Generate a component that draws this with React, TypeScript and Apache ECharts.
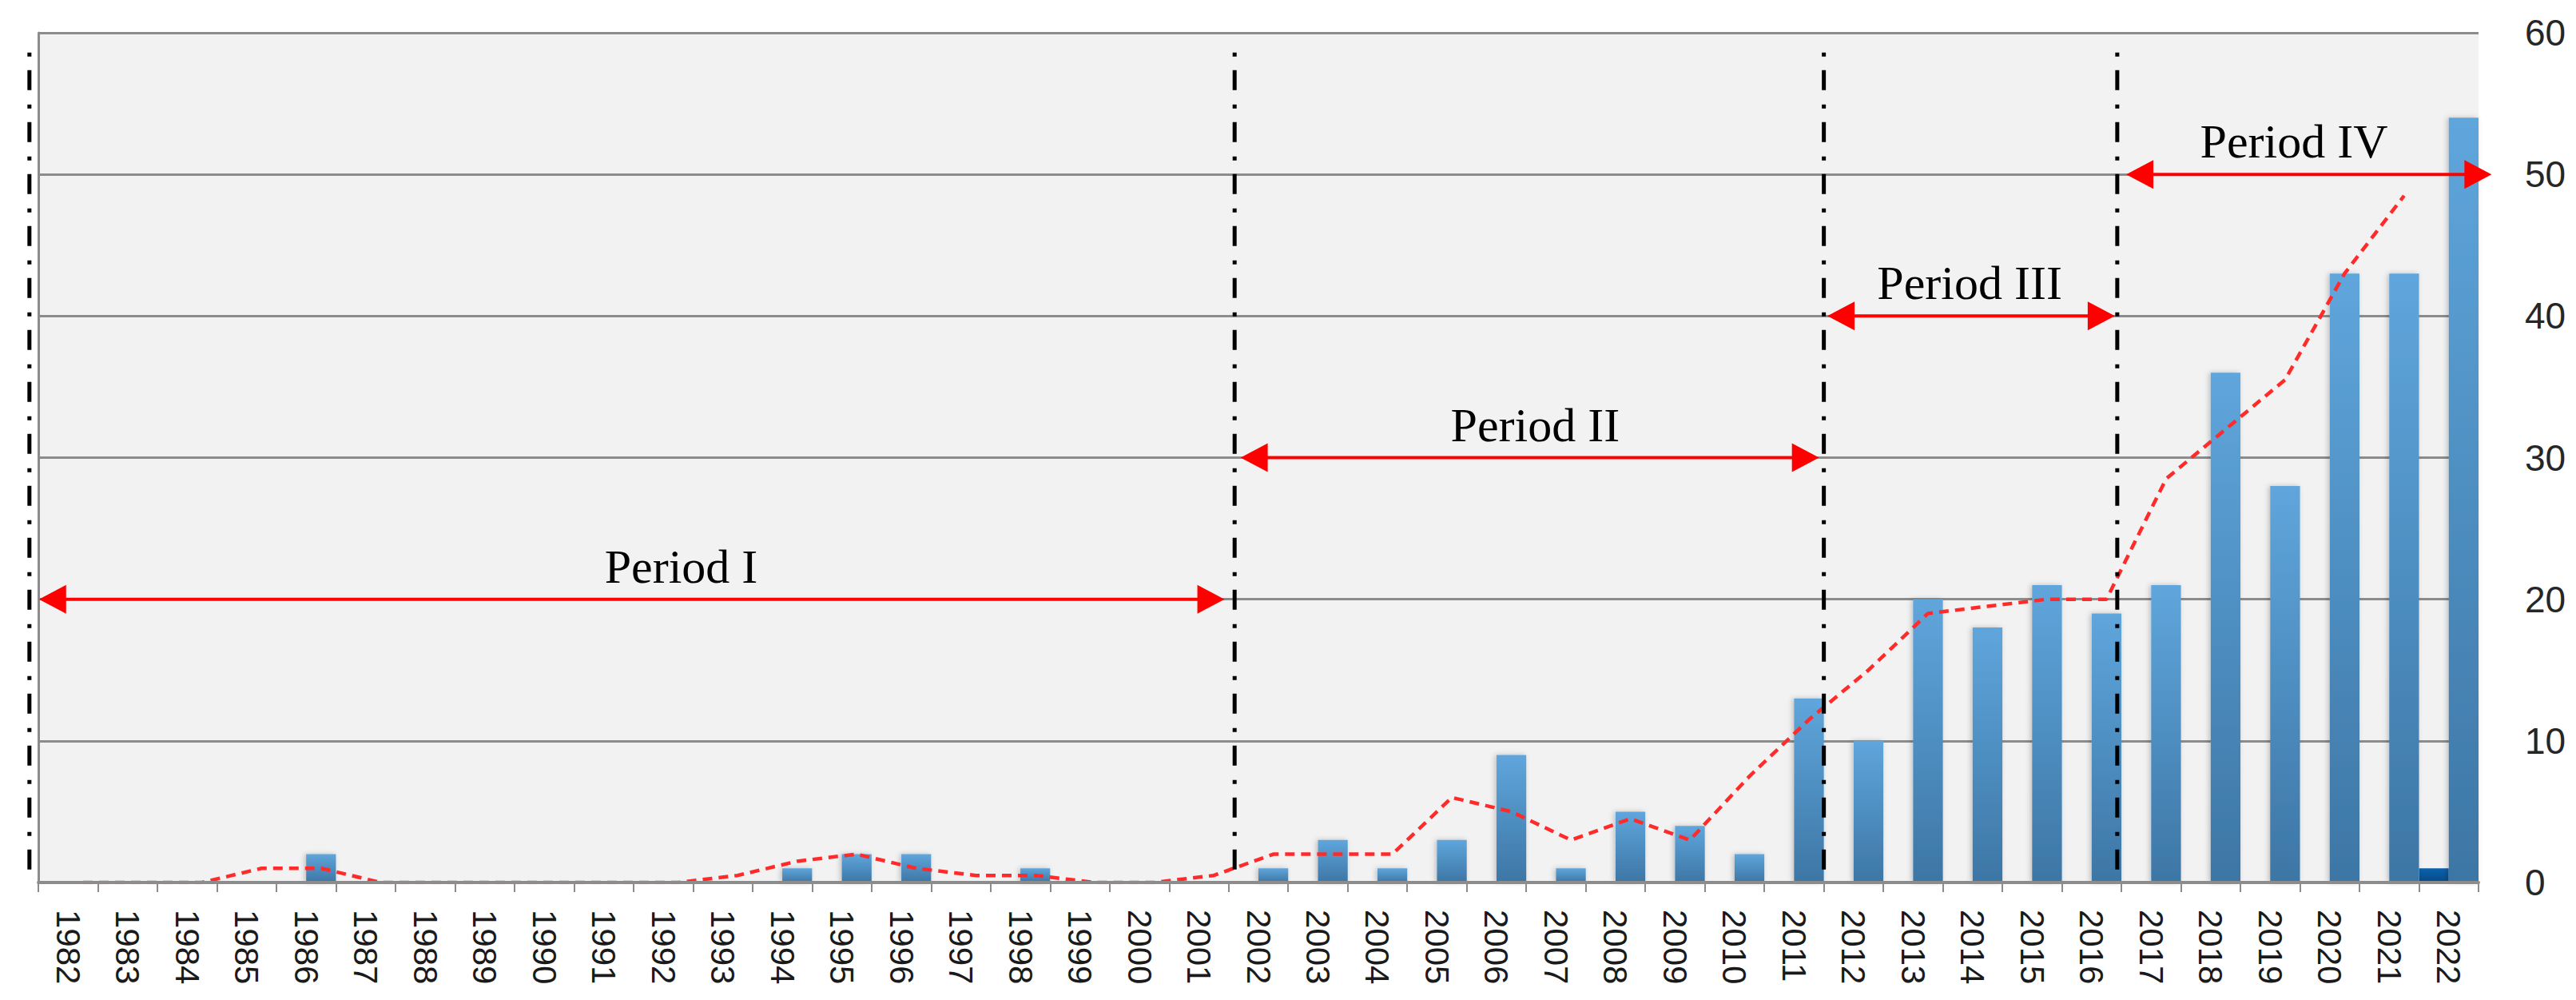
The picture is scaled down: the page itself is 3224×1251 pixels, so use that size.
import React, { useEffect, useRef } from 'react';
import * as echarts from 'echarts';

// Categories (years)
const years = [
  '1982', '1983', '1984', '1985', '1986', '1987', '1988', '1989', '1990', '1991',
  '1992', '1993', '1994', '1995', '1996', '1997', '1998', '1999', '2000', '2001',
  '2002', '2003', '2004', '2005', '2006', '2007', '2008', '2009', '2010', '2011',
  '2012', '2013', '2014', '2015', '2016', '2017', '2018', '2019', '2020', '2021', '2022',
];

// Dark blue series (left bar of each pair)
const secondarySeries = [
  0, 0, 0, 0, 0, 0, 0, 0, 0, 0,
  0, 0, 0, 0, 0, 0, 0, 0, 0, 0,
  0, 0, 0, 0, 0, 0, 0, 0, 0, 0,
  0, 0, 0, 0, 0, 0, 0, 0, 0, 0, 1,
];

// Light blue series (right bar of each pair)
const mainSeries = [
  0, 0, 0, 0, 2, 0, 0, 0, 0, 0,
  0, 0, 1, 2, 2, 0, 1, 0, 0, 0,
  1, 3, 1, 3, 9, 1, 5, 4, 2, 13,
  10, 20, 18, 21, 19, 21, 36, 28, 43, 43, 54,
];

// Red dashed trend line, one value per year 1982..2021
const trendValues = [
  0, 0, 0, 1, 1, 0, 0, 0, 0, 0,
  0, 0.5, 1.5, 2, 1, 0.5, 0.5, 0, 0, 0.5,
  2, 2, 2, 6, 5, 3, 4.5, 3, 7.5, 11.5,
  15, 19, 19.5, 20, 20, 28.5, 32, 35.5, 43, 48.5,
];

// Right axis ticks
const yMin = 0;
const yMax = 60;
const yInterval = 10;

// Period annotations (positions in category units along the x axis)
const periodLabels = ['Period I', 'Period II', 'Period III', 'Period IV'];
const periodLevels = [20, 30, 40, 50];
const periodStarts = [0.01, 20.2, 30.06, 35.08];
const periodEnds = [19.93, 29.92, 34.89, 41.22];
const periodTextX = [10.8, 25.15, 32.45, 37.9];
const dividerX = [-0.15, 20.1, 30.0, 34.93];
const dividerTop = 58.6;
const dividerBottom = 0.7;

export default function App() {
  const ref = useRef<HTMLDivElement>(null);

  useEffect(() => {
    if (!ref.current) return;
    const chart = echarts.init(ref.current, null, { renderer: 'svg' });

    const axisGrey = '#8c8c8c';
    const lightGrad = new echarts.graphic.LinearGradient(0, 0, 0, 1, [
      { offset: 0, color: '#5fa6dc' },
      { offset: 1, color: '#3d76a5' },
    ]);
    const darkGrad = new echarts.graphic.LinearGradient(0, 0, 0, 1, [
      { offset: 0, color: '#0b62ad' },
      { offset: 1, color: '#064a86' },
    ]);

    chart.setOption({
      animation: false,
      backgroundColor: '#ffffff',
      grid: {
        left: 48,
        right: 122,
        top: 41,
        bottom: 147,
        show: true,
        backgroundColor: '#f2f2f2',
        borderWidth: 0,
      },
      xAxis: [
        {
          type: 'category',
          data: years,
          boundaryGap: true,
          z: 5,
          axisLine: { show: true, lineStyle: { color: axisGrey, width: 4 } },
          axisTick: { show: true, length: 12, lineStyle: { color: axisGrey, width: 2 } },
          axisLabel: {
            interval: 0,
            rotate: -90,
            fontSize: 42,
            fontFamily: 'Liberation Sans',
            color: '#1a1a1a',
            margin: 34,
          },
          splitLine: { show: false },
        },
        {
          type: 'value',
          min: 0,
          max: years.length,
          show: false,
        },
      ],
      yAxis: {
        type: 'value',
        position: 'right',
        min: yMin,
        max: yMax,
        interval: yInterval,
        axisLine: { show: true, lineStyle: { color: axisGrey, width: 3 } },
        axisTick: { show: true, length: 18, lineStyle: { color: axisGrey, width: 3 } },
        axisLabel: {
          fontSize: 46,
          fontFamily: 'Liberation Sans',
          color: '#262626',
          margin: 58,
          align: 'left',
        },
        splitLine: { show: true, lineStyle: { color: axisGrey, width: 3 } },
      },
      series: [
        {
          type: 'bar',
          data: secondarySeries,
          barGap: '0%',
          barCategoryGap: '0%',
          itemStyle: { color: darkGrad },
          z: 2,
        },
        {
          type: 'bar',
          data: mainSeries,
          barGap: '0%',
          barCategoryGap: '0%',
          itemStyle: {
            color: lightGrad,
            shadowColor: 'rgba(0,0,0,0.22)',
            shadowBlur: 6,
            shadowOffsetX: -2,
          },
          z: 2,
        },
        {
          type: 'line',
          xAxisIndex: 1,
          yAxisIndex: 0,
          data: trendValues.map((v, i) => [i + 0.75, v]),
          symbol: 'none',
          lineStyle: { color: '#ff2b2b', width: 4.5, type: [12, 8] },
          z: 3,
        },
      ],
    });

    const px = (x: number, y: number) =>
      chart.convertToPixel({ xAxisIndex: 1, yAxisIndex: 0 }, [x, y]) as number[];

    const graphics: any[] = [];
    dividerX.forEach((dx) => {
      const a = px(dx, dividerTop);
      const b = px(dx, dividerBottom);
      graphics.push({
        type: 'line',
        z: 100,
        shape: { x1: a[0], y1: a[1], x2: b[0], y2: b[1] },
        style: { stroke: '#000000', lineWidth: 5, lineDash: [5, 17, 25, 18] },
      });
    });

    const headLen = 34;
    const headHalf = 18;
    periodLabels.forEach((label, i) => {
      const l = px(periodStarts[i], periodLevels[i]);
      const r = px(periodEnds[i], periodLevels[i]);
      const y = l[1];
      graphics.push({
        type: 'line',
        z: 101,
        shape: { x1: l[0] + headLen - 2, y1: y, x2: r[0] - headLen + 2, y2: y },
        style: { stroke: '#ff0000', lineWidth: 4 },
      });
      graphics.push({
        type: 'polygon',
        z: 101,
        shape: { points: [[l[0], y], [l[0] + headLen, y - headHalf], [l[0] + headLen, y + headHalf]] },
        style: { fill: '#ff0000' },
      });
      graphics.push({
        type: 'polygon',
        z: 101,
        shape: { points: [[r[0], y], [r[0] - headLen, y - headHalf], [r[0] - headLen, y + headHalf]] },
        style: { fill: '#ff0000' },
      });
      const t = px(periodTextX[i], periodLevels[i]);
      graphics.push({
        type: 'text',
        z: 102,
        x: t[0],
        y: t[1] - 41,
        style: {
          text: label,
          fontSize: 60,
          fontFamily: 'Liberation Serif',
          fill: '#000000',
          align: 'center',
          verticalAlign: 'middle',
        },
      });
    });

    chart.setOption({ graphic: graphics });

    return () => {
      chart.dispose();
    };
  }, []);

  return (
    <div
      ref={ref}
      style={{ position: 'fixed', left: 0, top: 0, width: '3224px', height: '1251px' }}
    />
  );
}
